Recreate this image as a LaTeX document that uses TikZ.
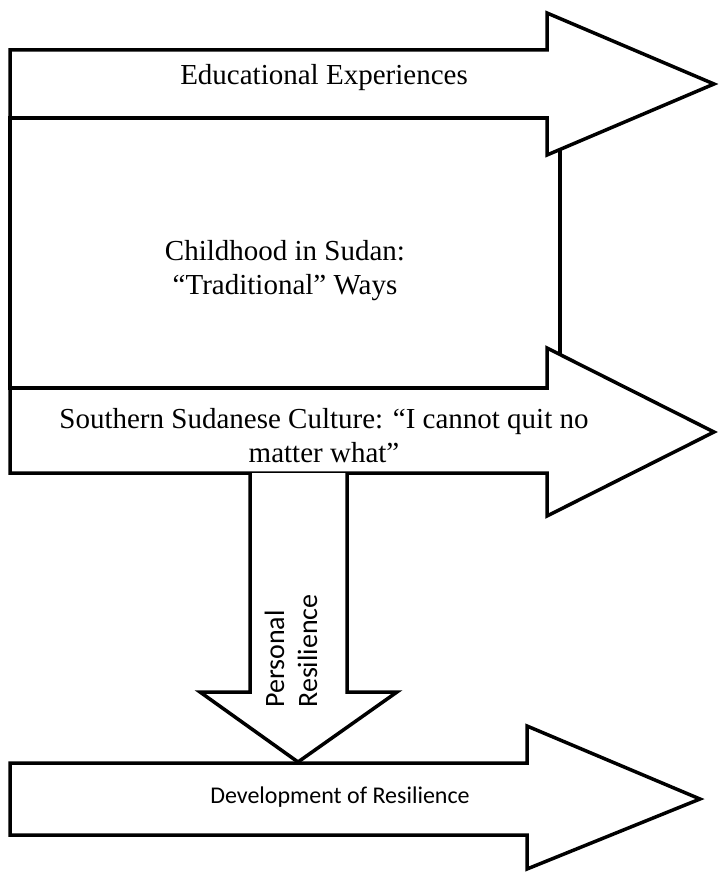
\documentclass[tikz,border=0pt]{standalone}
\usepackage{fontspec}
\setmainfont{Liberation Serif}
\newfontfamily\sansfam{Carlito}
\begin{document}
\begin{tikzpicture}[x=1pt,y=-1pt,
  blockarrow/.style={draw,line width=3.5pt,fill=white,line join=miter},
  seriftext/.style={font=\fontsize{29}{34}\selectfont,align=center,inner sep=0pt},
  sanstext/.style={font=\sansfam\fontsize{24}{33}\selectfont,align=center,inner sep=0pt}]
  \useasboundingbox (0,0) rectangle (719,872);
  % background box, then the arrows over it
  \draw[blockarrow] (10,118) rectangle (560,388);
  \draw[blockarrow] (10,50) -- (547,50) -- (547,13) -- (714,84) -- (547,155) -- (547,118) -- (10,118) -- cycle;
  \draw[blockarrow] (10,388) -- (547,388) -- (547,348) -- (714,432) -- (547,516) -- (547,473) -- (10,473) -- cycle;
  \draw[blockarrow] (250,473) -- (250,692) -- (200,692) -- (298,762) -- (397,692) -- (347,692) -- (347,473);
  \draw[blockarrow] (10,763) -- (527,763) -- (527,726) -- (700,799) -- (527,869) -- (527,835) -- (10,835) -- cycle;
  \node[seriftext] (edu) at (324,78) {Educational Experiences};
  \node[seriftext] (child) at (285,271) {Childhood in Sudan:\\ “Traditional” Ways};
  \node[seriftext] (culture) at (324,436) {Southern Sudanese Culture: “I cannot quit no\\ matter what”};
  \node[sanstext,font=\sansfam\fontsize{28}{33}\selectfont,align=left,rotate=90] (personal) at (291,651) {Personal\\ Resilience};
  \node[sanstext] (develop) at (340,797) {Development of Resilience};
\end{tikzpicture}
\end{document}
